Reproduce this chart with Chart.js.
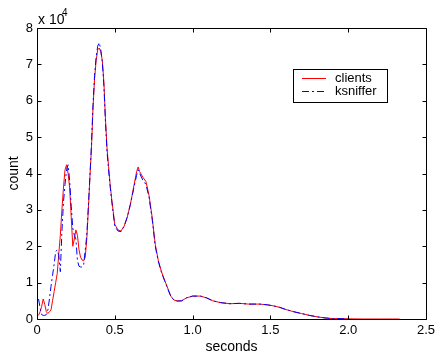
<!DOCTYPE html>
<html>
<head>
<meta charset="utf-8">
<script src="https://cdn.jsdelivr.net/npm/chart.js@4.4.1/dist/chart.umd.min.js"></script>
<style>
  html, body { margin: 0; padding: 0; background: #fff; }
  #wrap { width: 445px; height: 362px; }
</style>
</head>
<body>
<div id="wrap"><canvas id="chart" width="445" height="362"></canvas></div>
<script>
// time bins (seconds)
const seconds = [
  0.01, 0.02, 0.03, 0.04, 0.05, 0.06, 0.07, 0.08, 0.09, 0.10,
  0.11, 0.12, 0.13, 0.14, 0.15, 0.16, 0.17, 0.18, 0.19, 0.20,
  0.21, 0.22, 0.23, 0.24, 0.25, 0.26, 0.27, 0.28, 0.29, 0.30,
  0.31, 0.32, 0.33, 0.34, 0.35, 0.36, 0.37, 0.38, 0.39, 0.40,
  0.41, 0.42, 0.43, 0.44, 0.45, 0.46, 0.47, 0.48, 0.49, 0.50,
  0.52, 0.54, 0.56, 0.58, 0.60, 0.62, 0.64, 0.65, 0.66, 0.68,
  0.70, 0.72, 0.74, 0.76, 0.78, 0.80, 0.82, 0.84, 0.86, 0.88,
  0.90, 0.93, 0.96, 1.00, 1.05, 1.09, 1.13, 1.18, 1.24, 1.30,
  1.36, 1.43, 1.48, 1.52, 1.56, 1.60, 1.65, 1.70, 1.75, 1.80,
  1.85, 1.90, 1.95, 2.00, 2.10, 2.20, 2.33
];

// counts in units of 10^4
const clients = [
  0.10, 0.20, 0.35, 0.55, 0.40, 0.20, 0.15, 0.20, 0.25, 0.50,
  0.75, 1.00, 1.25, 1.80, 2.30, 3.00, 3.60, 4.10, 4.24, 4.00,
  3.60, 2.80, 2.00, 2.20, 2.45, 2.30, 1.90, 1.70, 1.62, 1.60,
  1.70, 2.20, 3.00, 3.90, 4.70, 5.80, 6.60, 7.10, 7.40, 7.45,
  7.35, 7.10, 6.50, 5.50, 4.70, 4.20, 3.70, 3.30, 2.95, 2.60,
  2.45, 2.42, 2.55, 2.80, 3.15, 3.60, 4.05, 4.18, 4.05, 3.90,
  3.78, 3.40, 2.80, 2.05, 1.60, 1.30, 1.07, 0.85, 0.63, 0.52,
  0.50, 0.50, 0.58, 0.63, 0.63, 0.58, 0.50, 0.45, 0.42, 0.43,
  0.41, 0.41, 0.39, 0.36, 0.32, 0.26, 0.20, 0.15, 0.10, 0.06,
  0.03, 0.01, 0.01, 0.005, 0, 0, 0
];

const ksniffer = [
  0.55, 0.30, 0.12, 0.10, 0.10, 0.12, 0.25, 0.55, 0.90, 1.20,
  1.50, 1.85, 1.90, 1.75, 1.30, 2.40, 3.20, 3.70, 4.10, 4.24,
  3.80, 3.10, 2.50, 2.30, 2.20, 1.60, 1.45, 1.43, 1.43, 1.50,
  1.90, 2.30, 3.10, 3.90, 4.80, 5.90, 6.70, 7.20, 7.50, 7.60,
  7.40, 7.05, 6.40, 5.40, 4.60, 4.10, 3.65, 3.25, 2.90, 2.55,
  2.42, 2.40, 2.55, 2.80, 3.15, 3.55, 3.95, 4.10, 4.00, 3.82,
  3.70, 3.35, 2.75, 2.00, 1.58, 1.28, 1.05, 0.83, 0.62, 0.52,
  0.49, 0.50, 0.58, 0.63, 0.63, 0.58, 0.50, 0.45, 0.42, 0.43,
  0.41, 0.41, 0.39, 0.36, 0.32, 0.26, 0.20, 0.15, 0.10, 0.06,
  0.03, 0.01, 0.01, 0, null, null, null
];

const seriesNames = ['clients', 'ksniffer'];
const xTicks = [0, 0.5, 1, 1.5, 2, 2.5];
const yTicks = [0, 1, 2, 3, 4, 5, 6, 7, 8];

const FONT = 'Helvetica, "Liberation Sans", Arial, sans-serif';
const RED = '#ff0000';
const BLUE = '#0000ff';
const DASHDOT = [7, 3, 2, 3];

const toPoints = (vals) => seconds.map((s, i) => ({ x: s, y: vals[i] }));

// matlab-style box with inward ticks, exponent label and legend
const matlabAxes = {
  id: 'matlabAxes',
  afterDraw(chart) {
    const ctx = chart.ctx;
    const xs = chart.scales.x, ys = chart.scales.y;
    const L = Math.round(xs.left) + 0.5, R = Math.round(xs.right) + 0.5;
    const T = Math.round(ys.top) + 0.5, B = Math.round(ys.bottom) + 0.5;
    const tl = 4;
    ctx.save();
    ctx.strokeStyle = '#000';
    ctx.lineWidth = 1;
    ctx.beginPath();
    ctx.rect(L, T, R - L, B - T);
    xTicks.forEach(v => {
      const px = Math.round(xs.getPixelForValue(v)) + 0.5;
      ctx.moveTo(px, B); ctx.lineTo(px, B - tl);
      ctx.moveTo(px, T); ctx.lineTo(px, T + tl);
    });
    yTicks.forEach(v => {
      const py = Math.round(ys.getPixelForValue(v)) + 0.5;
      ctx.moveTo(L, py); ctx.lineTo(L + tl, py);
      ctx.moveTo(R, py); ctx.lineTo(R - tl, py);
    });
    ctx.stroke();

    // exponent
    ctx.fillStyle = '#000';
    ctx.textBaseline = 'alphabetic';
    ctx.textAlign = 'left';
    ctx.font = '14px ' + FONT;
    ctx.fillText('x 10', 38, 24);
    ctx.font = '10px ' + FONT;
    ctx.fillText('4', 62, 16);

    // legend
    const bx = 293.5, by = 69.5, bw = 94, bh = 33;
    ctx.fillStyle = '#fff';
    ctx.fillRect(bx, by, bw, bh);
    ctx.strokeStyle = '#000';
    ctx.strokeRect(bx, by, bw, bh);
    const rows = [
      { name: seriesNames[0], color: RED, dash: [] },
      { name: seriesNames[1], color: BLUE, dash: DASHDOT }
    ];
    rows.forEach((r, i) => {
      const y = 78.5 + i * 13;
      ctx.strokeStyle = r.color;
      ctx.setLineDash(r.dash);
      ctx.beginPath();
      ctx.moveTo(302, y); ctx.lineTo(326, y);
      ctx.stroke();
      ctx.setLineDash([]);
      ctx.fillStyle = '#000';
      ctx.font = '13px ' + FONT;
      ctx.textBaseline = 'middle';
      ctx.fillText(r.name, 335, y);
    });
    ctx.restore();
  }
};

new Chart(document.getElementById('chart'), {
  type: 'line',
  data: {
    datasets: [
      {
        label: seriesNames[0],
        data: toPoints(clients),
        borderColor: RED,
        borderWidth: 1,
        pointRadius: 0,
        tension: 0,
        fill: false,
        order: 2
      },
      {
        label: seriesNames[1],
        data: toPoints(ksniffer),
        borderColor: BLUE,
        borderWidth: 1,
        borderDash: DASHDOT,
        pointRadius: 0,
        tension: 0,
        fill: false,
        spanGaps: false,
        order: 1
      }
    ]
  },
  options: {
    responsive: false,
    animation: false,
    layout: { padding: { left: 0, right: 19, top: 28, bottom: 0 } },
    plugins: {
      legend: { display: false },
      tooltip: { enabled: false }
    },
    scales: {
      x: {
        type: 'linear',
        min: 0,
        max: 2.5,
        afterBuildTicks: (s) => { s.ticks = xTicks.map(v => ({ value: v })); },
        afterFit: (s) => { s.height = 43; },
        grid: { display: false, drawTicks: false },
        border: { display: false },
        ticks: { color: '#000', font: { size: 13, family: FONT }, padding: 4, maxRotation: 0 },
        title: { display: true, text: 'seconds', color: '#000', font: { size: 14, family: FONT }, padding: { bottom: 6 } }
      },
      y: {
        min: 0,
        max: 8,
        afterBuildTicks: (s) => { s.ticks = yTicks.map(v => ({ value: v })); },
        afterFit: (s) => { s.width = 37; },
        grid: { display: false, drawTicks: false },
        border: { display: false },
        ticks: { color: '#000', font: { size: 13, family: FONT }, padding: 4 },
        title: { display: true, text: 'count', color: '#000', font: { size: 14, family: FONT }, padding: { top: 6 } }
      }
    }
  },
  plugins: [matlabAxes]
});
</script>
</body>
</html>
